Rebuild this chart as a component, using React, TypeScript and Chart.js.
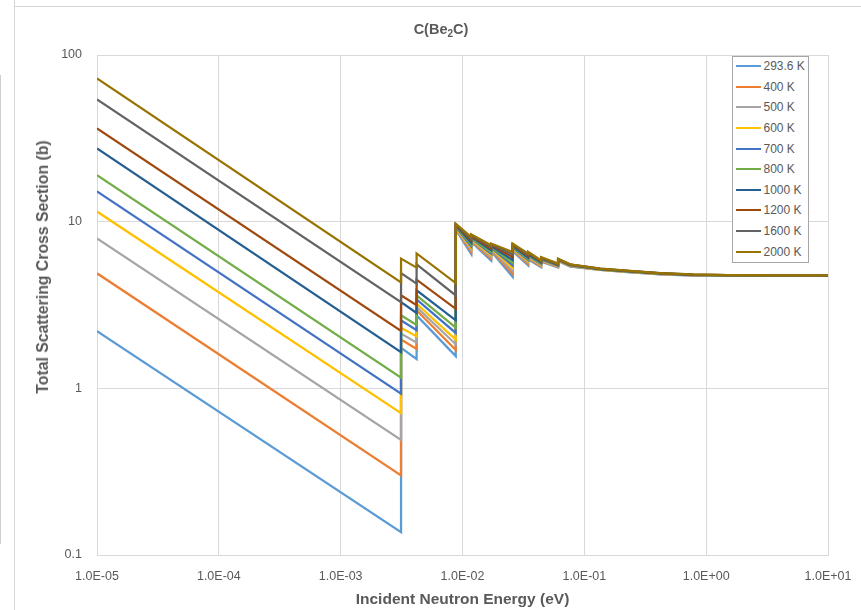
import React, { useEffect, useRef } from "react";
import { Chart, registerables } from "chart.js";

Chart.register(...registerables);

// ---------- DATA ----------
const energies = [
  1e-5, 3.13e-3, 3.13e-3, 4.2e-3, 4.2e-3, 8.8e-3, 8.8e-3, 1.18e-2, 1.18e-2,
  1.72e-2, 1.72e-2, 2.58e-2, 2.58e-2, 3.46e-2, 3.46e-2, 4.42e-2, 4.42e-2,
  6.09e-2, 6.09e-2, 7.65e-2, 0.135, 0.224, 0.42, 0.78, 1.5, 10,
];

const s293 = [2.2, 0.137, 1.75, 1.5, 2.74, 1.56, 8.95, 6.39, 7.55, 5.84, 6.65, 4.66, 6.65, 5.47, 5.94, 5.33, 5.76, 5.32, 5.81, 5.38, 5.13, 4.98, 4.82, 4.75, 4.75, 4.76];
const s400 = [4.9, 0.3, 1.96, 1.72, 2.94, 1.7, 9.04, 6.57, 7.65, 5.99, 6.74, 4.86, 6.74, 5.57, 6.02, 5.39, 5.8, 5.35, 5.83, 5.4, 5.14, 5.0, 4.84, 4.76, 4.75, 4.76];
const s500 = [7.94, 0.49, 2.13, 1.88, 3.07, 1.84, 9.13, 6.76, 7.74, 6.14, 6.82, 5.06, 6.82, 5.68, 6.09, 5.45, 5.85, 5.39, 5.85, 5.42, 5.15, 5.01, 4.85, 4.77, 4.76, 4.76];
const s600 = [11.5, 0.71, 2.31, 2.05, 3.22, 1.96, 9.22, 6.96, 7.84, 6.3, 6.91, 5.28, 6.91, 5.79, 6.17, 5.52, 5.89, 5.42, 5.87, 5.44, 5.16, 5.02, 4.86, 4.78, 4.76, 4.76];
const s700 = [15.2, 0.93, 2.56, 2.23, 3.42, 2.15, 9.3, 7.12, 7.93, 6.43, 6.98, 5.46, 6.98, 5.89, 6.24, 5.57, 5.93, 5.45, 5.89, 5.46, 5.17, 5.03, 4.87, 4.78, 4.76, 4.76];
const s800 = [19.0, 1.16, 2.74, 2.4, 3.61, 2.31, 9.38, 7.29, 8.01, 6.57, 7.06, 5.65, 7.06, 5.99, 6.3, 5.62, 5.97, 5.48, 5.91, 5.48, 5.18, 5.04, 4.88, 4.79, 4.76, 4.76];
const s1000 = [27.5, 1.65, 3.29, 2.83, 3.87, 2.56, 9.47, 7.5, 8.11, 6.74, 7.14, 5.89, 7.14, 6.1, 6.38, 5.69, 6.01, 5.51, 5.93, 5.5, 5.19, 5.05, 4.89, 4.8, 4.77, 4.76];
const s1200 = [36.3, 2.21, 3.61, 3.15, 4.49, 3.0, 9.57, 7.72, 8.21, 6.91, 7.24, 6.14, 7.24, 6.22, 6.46, 5.75, 6.05, 5.54, 5.95, 5.52, 5.21, 5.06, 4.9, 4.81, 4.77, 4.76];
const s1600 = [54.2, 3.29, 4.92, 4.25, 5.54, 3.61, 9.65, 7.9, 8.3, 7.06, 7.31, 6.35, 7.31, 6.33, 6.53, 5.8, 6.09, 5.57, 5.97, 5.53, 5.22, 5.07, 4.91, 4.81, 4.77, 4.76];
const s2000 = [72.4, 4.32, 6.0, 5.3, 6.45, 4.28, 9.73, 8.09, 8.39, 7.21, 7.39, 6.57, 7.39, 6.43, 6.6, 5.86, 6.13, 5.6, 5.99, 5.55, 5.23, 5.08, 4.92, 4.82, 4.77, 4.76];

const seriesLabels = ["293.6 K", "400 K", "500 K", "600 K", "700 K", "800 K", "1000 K", "1200 K", "1600 K", "2000 K"];
const seriesValues = [s293, s400, s500, s600, s700, s800, s1000, s1200, s1600, s2000];
const seriesColors = ["#5B9BD5", "#ED7D31", "#A5A5A5", "#FFC000", "#4472C4", "#70AD47", "#255E91", "#9E480E", "#636363", "#997300"];

const xTickValues = [1e-5, 1e-4, 1e-3, 1e-2, 1e-1, 1, 10];
const xTickLabels = ["1.0E-05", "1.0E-04", "1.0E-03", "1.0E-02", "1.0E-01", "1.0E+00", "1.0E+01"];
const yTickValues = [0.1, 1, 10, 100];
const yTickLabels = ["0.1", "1", "10", "100"];

const chartTitle = "C(Be";
const chartTitleSub = "2";
const chartTitleEnd = "C)";
const xTitle = "Incident Neutron Energy (eV)";
const yTitle = "Total Scattering Cross Section (b)";

// ---------- STYLE ----------
const FONT = "'Liberation Sans', Arial, sans-serif";
const TEXT = "#595959";
const GRID = "#d9d9d9";

export default function App() {
  const ref = useRef<HTMLCanvasElement>(null);

  useEffect(() => {
    const chart = new Chart(ref.current as HTMLCanvasElement, {
      type: "line",
      data: {
        datasets: seriesLabels.map((label, i) => ({
          label,
          data: energies.map((x, j) => ({ x, y: seriesValues[i][j] })),
          borderColor: seriesColors[i],
          backgroundColor: seriesColors[i],
          borderWidth: 2.25,
          pointRadius: 0,
          tension: 0,
          fill: false,
          order: 9 - i,
        })),
      },
      options: {
        animation: false,
        responsive: false,
        maintainAspectRatio: false,
        layout: { padding: { left: 0, right: 33, top: 55, bottom: 0 } },
        plugins: {
          legend: { display: false },
          title: { display: false },
          tooltip: { enabled: false },
        },
        scales: {
          x: {
            type: "logarithmic",
            min: 1e-5,
            max: 10,
            afterBuildTicks: (s: any) => {
              s.ticks = xTickValues.map((v) => ({ value: v }));
            },
            afterFit: (s: any) => {
              s.height = 55;
              s.paddingLeft = 0;
              s.paddingRight = 0;
            },
            ticks: {
              callback: (_v: any, i: number) => xTickLabels[i],
              color: TEXT,
              font: { family: FONT, size: 12.5 },
              padding: 14,
              maxRotation: 0,
              autoSkip: false,
            },
            grid: { color: GRID, lineWidth: 1, drawTicks: false },
            border: { color: GRID },
            title: {
              display: true,
              text: xTitle,
              color: TEXT,
              font: { family: FONT, size: 15.5, weight: "bold" },
              padding: { top: 0, bottom: 1 },
            },
          },
          y: {
            type: "logarithmic",
            min: 0.1,
            max: 100,
            afterBuildTicks: (s: any) => {
              s.ticks = yTickValues.map((v) => ({ value: v }));
            },
            afterFit: (s: any) => {
              s.width = 97;
              s.paddingTop = 0;
              s.paddingBottom = 0;
            },
            ticks: {
              callback: (_v: any, i: number) => yTickLabels[i],
              color: TEXT,
              font: { family: FONT, size: 12.5 },
              padding: 15,
              autoSkip: false,
            },
            grid: { color: GRID, lineWidth: 1, drawTicks: false },
            border: { color: GRID },
            title: { display: false },
          },
        },
      },
    } as any);
    return () => chart.destroy();
  }, []);

  const legendTop = 56;
  const legendLeft = 732;
  const rowPitch = 20.63;

  return (
    <div style={{ position: "absolute", left: 0, top: 0, width: 861, height: 610, overflow: "hidden", background: "#fff" }}>
      <canvas ref={ref} width={861} height={610} style={{ position: "absolute", left: 0, top: 0, display: "block" }} />
      {/* window frame lines */}
      <div style={{ position: "absolute", left: 14, top: 0, width: 1, height: 610, background: "#d6d6d6" }} />
      <div style={{ position: "absolute", left: 14, top: 6, width: 847, height: 1, background: "#d6d6d6" }} />
      <div style={{ position: "absolute", left: 0, top: 75, width: 1, height: 469, background: "#cfcfcf" }} />
      {/* title */}
      <div
        style={{
          position: "absolute",
          left: 441,
          top: 30,
          transform: "translate(-50%, -50%)",
          fontFamily: FONT,
          fontWeight: "bold",
          fontSize: 14.5,
          color: TEXT,
          whiteSpace: "nowrap",
        }}
      >
        {chartTitle}
        <sub style={{ fontSize: 10, verticalAlign: "-3px" }}>{chartTitleSub}</sub>
        {chartTitleEnd}
      </div>
      {/* y axis title */}
      <div
        style={{
          position: "absolute",
          left: 43,
          top: 267,
          transform: "translate(-50%, -50%) rotate(-90deg)",
          fontFamily: FONT,
          fontWeight: "bold",
          fontSize: 15.8,
          color: TEXT,
          whiteSpace: "nowrap",
        }}
      >
        {yTitle}
      </div>
      {/* legend */}
      <div
        style={{
          position: "absolute",
          left: legendLeft,
          top: legendTop,
          width: 77,
          height: 207,
          boxSizing: "border-box",
          border: "1px solid #a6a6a6",
          background: "#fff",
        }}
      >
        {seriesLabels.map((label, i) => (
          <div
            key={label}
            style={{
              position: "absolute",
              left: 0,
              top: Math.round(1 + i * rowPitch),
              height: 16,
              width: 75,
              display: "flex",
              alignItems: "center",
            }}
          >
            <div style={{ marginLeft: 3, width: 25, height: 2, background: seriesColors[i] }} />
            <div
              style={{
                marginLeft: 2.5,
                fontFamily: FONT,
                fontSize: 12,
                color: TEXT,
                whiteSpace: "nowrap",
                lineHeight: "16px",
              }}
            >
              {label}
            </div>
          </div>
        ))}
      </div>
    </div>
  );
}
